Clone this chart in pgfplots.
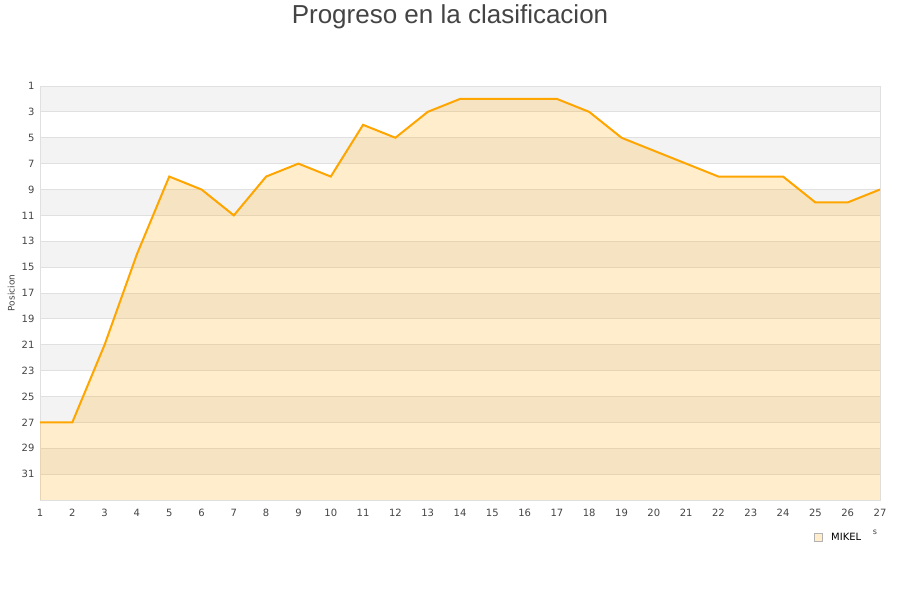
\documentclass[border=0pt]{standalone}
\usepackage{fontspec}
\setmainfont{DejaVu Sans}
\newfontfamily\titlefont{Liberation Sans}
\usepackage{pgfplots}
\pgfplotsset{compat=1.18}
\definecolor{lineorange}{HTML}{FFA500}
\definecolor{bandgray}{HTML}{F3F3F3}
\definecolor{gridgray}{HTML}{E0E0E0}
\definecolor{textgray}{HTML}{444444}
\begin{document}
\begin{tikzpicture}[x=1pt,y=1pt]
  \path (0,0) rectangle (900,600);
  \node[font=\titlefont\fontsize{26}{30}\selectfont, text=textgray] at (450,583) {Progreso en la clasificacion};

  \begin{axis}[
    set layers,
    at={(40pt,100pt)}, anchor=south west,
    scale only axis,
    width=840pt, height=414pt,
    xmin=1, xmax=27,
    ymin=1, ymax=33,
    y dir=reverse,
    xtick={1,...,27},
    ytick={1,3,...,31},
    major tick length=0pt,
    ymajorgrids=true,
    grid style={draw=gridgray, line width=0.8pt},
    axis line style={draw=gridgray, line width=0.8pt},
    /pgf/number format/assume math mode=true,
    tick label style={font=\fontsize{10}{12}\selectfont, text=textgray},
    xticklabel style={yshift=-6pt},
    yticklabel style={xshift=-2pt},
    ylabel={Posicion},
    ylabel style={font=\fontsize{9}{11}\selectfont, text=textgray, at={(ticklabel cs:0.5)}, xshift=0pt},
    clip=true,
  ]
    \begin{pgfonlayer}{axis background}
      \pgfplotsinvokeforeach{1,5,9,13,17,21,25,29}{
        \fill[bandgray] (axis cs:1,#1) rectangle (axis cs:27,{#1+2});
      }
    \end{pgfonlayer}
    \addplot[draw=none, fill=lineorange, fill opacity=0.2] coordinates {
      (1,33) (1,27) (2,27) (3,21) (4,14) (5,8) (6,9) (7,11) (8,8) (9,7)
      (10,8) (11,4) (12,5) (13,3) (14,2) (15,2) (16,2) (17,2) (18,3)
      (19,5) (20,6) (21,7) (22,8) (23,8) (24,8) (25,10) (26,10) (27,9) (27,33)
    };
    \addplot[draw=lineorange, line width=2pt, mark=none] coordinates {
      (1,27) (2,27) (3,21) (4,14) (5,8) (6,9) (7,11) (8,8) (9,7)
      (10,8) (11,4) (12,5) (13,3) (14,2) (15,2) (16,2) (17,2) (18,3)
      (19,5) (20,6) (21,7) (22,8) (23,8) (24,8) (25,10) (26,10) (27,9)
    };
  \end{axis}

  \fill[lineorange!20, draw=gray!60, line width=0.6pt] (814,59) rectangle (822,67);
  \node[anchor=west, font=\fontsize{10}{12}\selectfont, inner sep=0pt] at (831,63) {MIKEL};
  \node[font=\fontsize{8}{10}\selectfont, text=textgray, inner sep=0pt] at (875,68) {s};
\end{tikzpicture}
\end{document}
